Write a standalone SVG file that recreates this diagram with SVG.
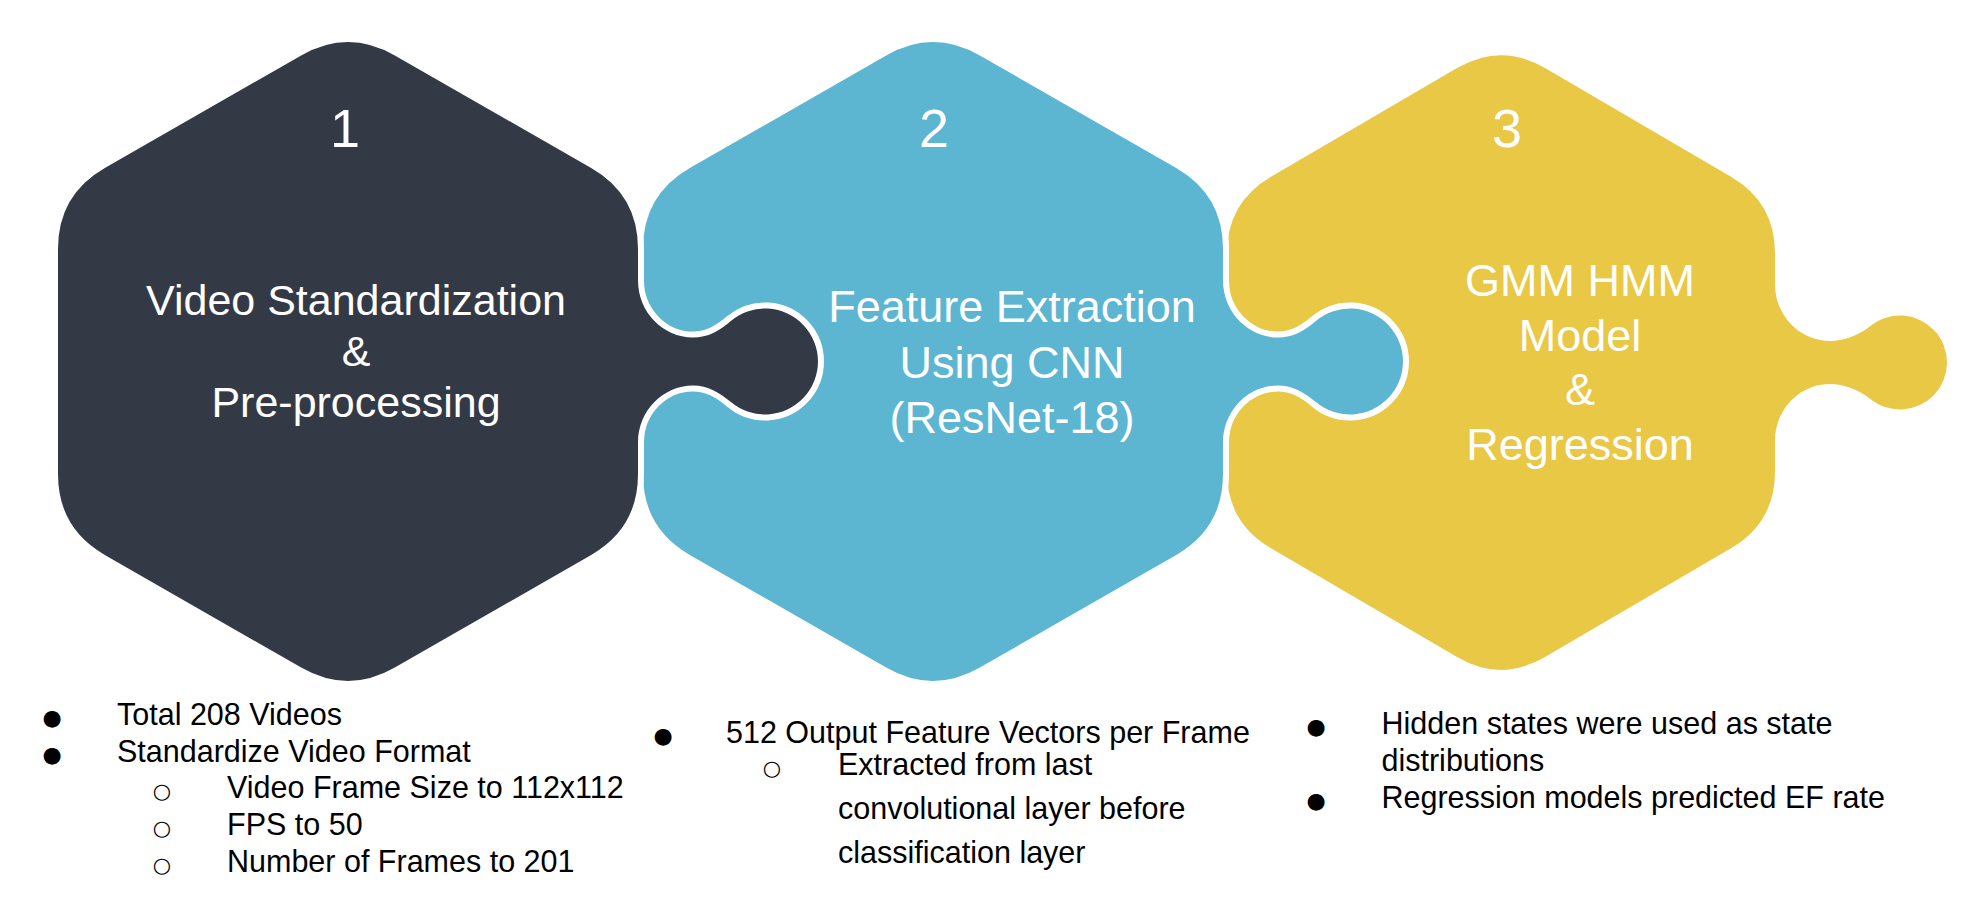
<svg xmlns="http://www.w3.org/2000/svg" width="1978" height="918" viewBox="0 0 1978 918">
<style>
.piece{stroke:#FFFFFF;stroke-width:12;paint-order:stroke fill;stroke-linejoin:round}
.num{font-family:"Liberation Sans",Arial,sans-serif;font-size:54px;fill:#FFFFFF;text-anchor:middle}
.lbl{font-family:"Liberation Sans",Arial,sans-serif;fill:#FFFFFF;text-anchor:middle}
.txt{font-family:"Liberation Sans",Arial,sans-serif;font-size:30.5px;fill:#000000}
.b1{font-family:"DejaVu Sans",sans-serif;font-size:22px;fill:#000000;text-anchor:middle}
.b2{font-family:"DejaVu Sans",sans-serif;font-size:21px;fill:#000000;text-anchor:middle}
</style>
<rect width="1978" height="918" fill="#FFFFFF"/>
<g id="connectors"></g>
<g id="step3">
<path class="piece" fill="#E9C846" d="M 1457 68 Q 1501 42.25 1545 68 L 1731 176.7 Q 1775 202.4 1775 253.4 L 1775 284.5 C 1775 315.6 1799.8 341 1830 341 C 1843 341 1859.8 334.9 1869.8 326.5 A 47 47 0 1 1 1869.8 398.5 C 1859.8 390.1 1843 384 1830 384 C 1799.8 384 1775 409.4 1775 440.5 L 1775 471.6 Q 1775 522.6 1731 548.3 L 1545 657 Q 1501 682.75 1457 657 L 1271 548.3 Q 1227 522.6 1227 471.6 L 1227 253.4 Q 1227 202.4 1271 176.7 Z"/>
<text class="num" x="1507" y="147">3</text>
<text class="lbl" font-size="45" x="1580" y="296">GMM HMM</text>
<text class="lbl" font-size="45" x="1580" y="351">Model</text>
<text class="lbl" font-size="45" x="1580" y="405">&amp;</text>
<text class="lbl" font-size="45" x="1580" y="460">Regression</text>
</g>
<g id="step2">
<path class="piece" fill="#5CB5D1" d="M 886.2 55.4 Q 933 28.5 979.8 55.4 L 1176.2 168.1 Q 1223 195 1223 249 L 1223 280.5 C 1223 312 1248 337.5 1278 337.5 C 1293 337.5 1304.4 330.5 1315.9 320.9 A 53 53 0 1 1 1315.9 402.1 C 1304.4 392.5 1293 385.5 1278 385.5 C 1248 385.5 1223 411 1223 442.5 L 1223 474 Q 1223 528 1176.2 554.9 L 979.8 667.6 Q 933 694.5 886.2 667.6 L 689.8 554.9 Q 643 528 643 474 L 643 249 Q 643 195 689.8 168.1 Z"/>
<text class="num" x="934" y="147">2</text>
<text class="lbl" font-size="45" x="1012" y="322">Feature Extraction</text>
<text class="lbl" font-size="45" x="1012" y="378">Using CNN</text>
<text class="lbl" font-size="45" x="1012" y="433">(ResNet-18)</text>
</g>
<g id="step1">
<path class="piece" fill="#343A45" d="M 301.2 55.4 Q 348 28.5 394.8 55.4 L 591.2 168.1 Q 638 195 638 249 L 638 280.5 C 638 312 663 337.5 693 337.5 C 708 337.5 719.4 330.5 730.9 320.9 A 53 53 0 1 1 730.9 402.1 C 719.4 392.5 708 385.5 693 385.5 C 663 385.5 638 411 638 442.5 L 638 474 Q 638 528 591.2 554.9 L 394.8 667.6 Q 348 694.5 301.2 667.6 L 104.8 554.9 Q 58 528 58 474 L 58 249 Q 58 195 104.8 168.1 Z"/>
<text class="num" x="345" y="147">1</text>
<text class="lbl" font-size="43" x="356" y="315">Video Standardization</text>
<text class="lbl" font-size="43" x="356" y="366">&amp;</text>
<text class="lbl" font-size="43" x="356" y="417">Pre-processing</text>
</g>
<g id="notes1">
<text class="b1" x="52" y="725">●</text>
<text class="txt" x="117" y="725">Total 208 Videos</text>
<text class="b1" x="52" y="761.5">●</text>
<text class="txt" x="117" y="761.5">Standardize Video Format</text>
<text class="b2" x="162" y="798">○</text>
<text class="txt" x="227" y="798">Video Frame Size to 112x112</text>
<text class="b2" x="162" y="835">○</text>
<text class="txt" x="227" y="835">FPS to 50</text>
<text class="b2" x="162" y="872">○</text>
<text class="txt" x="227" y="872">Number of Frames to 201</text>
</g>
<g id="notes2">
<text class="b1" x="663" y="743">●</text>
<text class="txt" x="726" y="743">512 Output Feature Vectors per Frame</text>
<text class="b2" x="772" y="775">○</text>
<text class="txt" x="838" y="775">Extracted from last</text>
<text class="txt" x="838" y="819">convolutional layer before</text>
<text class="txt" x="838" y="863">classification layer</text>
</g>
<g id="notes3">
<text class="b1" x="1316" y="734">●</text>
<text class="txt" x="1381.5" y="734">Hidden states were used as state</text>
<text class="txt" x="1381.5" y="771">distributions</text>
<text class="b1" x="1316" y="808">●</text>
<text class="txt" x="1381.5" y="808">Regression models predicted EF rate</text>
</g>
</svg>
